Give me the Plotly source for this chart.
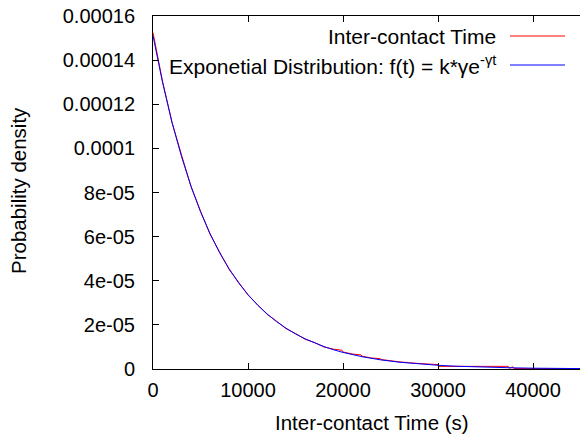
import plotly.graph_objects as go

# Data (time in s, density)
fit_t = [0, 1000, 2000, 3000, 4000, 5000, 6000, 7000, 8000, 9000, 10000,
         11000, 12000, 13000, 14000, 15000, 16000, 17000, 18000, 19000, 20000,
         22000, 24000, 26000, 28000, 30000, 32000, 34000, 36000, 38000, 40000,
         42000, 44000, 46000]
fit_y = [1.510e-4, 1.300e-4, 1.119e-4, 0.963e-4, 0.829e-4, 0.713e-4, 0.614e-4,
         0.528e-4, 0.455e-4, 0.391e-4, 0.337e-4, 0.290e-4, 0.250e-4, 0.215e-4,
         0.185e-4, 0.159e-4, 0.137e-4, 0.118e-4, 0.1015e-4, 0.0873e-4, 0.0752e-4,
         0.0557e-4, 0.0412e-4, 0.0305e-4, 0.0226e-4, 0.0168e-4, 0.0124e-4,
         0.0092e-4, 0.0068e-4, 0.0051e-4, 0.0037e-4, 0.0028e-4, 0.0021e-4,
         0.0015e-4]

emp_t = [0, 1000, 2000, 3000, 4000, 5000, 6000, 7000, 8000, 9000, 10000,
         11000, 12000, 13000, 14000, 15000, 16000, 17000, 18000,
         19000, 19900, 20000, 21000, 21900, 22000, 23000, 23900, 24000,
         25000, 25900, 26000, 26900, 27000, 28000, 28900, 29000, 30000,
         30100, 33000, 37400, 37500, 37900, 38000, 42000, 46000]
emp_y = [1.525e-4, 1.305e-4, 1.116e-4, 0.968e-4, 0.826e-4, 0.716e-4, 0.611e-4,
         0.531e-4, 0.452e-4, 0.394e-4, 0.335e-4, 0.292e-4, 0.248e-4, 0.217e-4,
         0.183e-4, 0.161e-4, 0.135e-4, 0.120e-4, 0.100e-4,
         0.090e-4, 0.085e-4, 0.077e-4, 0.068e-4, 0.064e-4, 0.058e-4, 0.050e-4,
         0.047e-4, 0.043e-4, 0.037e-4, 0.035e-4, 0.032e-4, 0.029e-4, 0.028e-4,
         0.025e-4, 0.023e-4, 0.021e-4, 0.020e-4,
         0.012e-4, 0.011e-4, 0.012e-4, 0.003e-4, 0.010e-4, 0.002e-4, 0.001e-4,
         0.001e-4]

x_ticks = [0, 10000, 20000, 30000, 40000]
x_labels = ["0", "10000", "20000", "30000", "40000"]
y_ticks = [0, 2e-5, 4e-5, 6e-5, 8e-5, 1e-4, 1.2e-4, 1.4e-4, 1.6e-4]
y_labels = ["0", "2e-05", "4e-05", "6e-05", "8e-05", "0.0001", "0.00012",
            "0.00014", "0.00016"]

x_title = "Inter-contact Time (s)"
y_title = "Probability density"
legend_names = ["Inter-contact Time",
                "Exponetial Distribution: f(t) = k*γe<sup>-γt</sup>"]
legend_colors = ["#ff0000", "#0000ff"]

FONT = "Liberation Sans, Arial, sans-serif"

fig = go.Figure()
fig.add_trace(go.Scatter(x=emp_t, y=emp_y, mode="lines",
                         line=dict(color=legend_colors[0], width=1),
                         name=legend_names[0]))
fig.add_trace(go.Scatter(x=fit_t, y=fit_y, mode="lines",
                         line=dict(color=legend_colors[1], width=1),
                         name=legend_names[1]))

# page body has an 8px margin: the figure is placed at (8, 8) in the window
OFF = 8
W, H = 588 - OFF, 436 - OFF
L, R, T, B = 153 - OFF, 0, 16 - OFF, 436 - 369
XMAX = 45790
pw = W - L - R
ph = H - T - B


def px(xw):
    return (xw - OFF - L) / pw


def py(yw):
    return 1 - (yw - OFF - T) / ph


fig.update_layout(
    width=W, height=H,
    margin=dict(l=L, r=R, t=T, b=B, autoexpand=False),
    paper_bgcolor="white", plot_bgcolor="white",
    showlegend=False,
    font=dict(family=FONT, size=20, color="black"),
    xaxis=dict(range=[0, XMAX], tickvals=x_ticks, ticktext=x_labels,
               ticks="inside", ticklen=6, tickcolor="black", automargin=False,
               showline=True, linecolor="black", linewidth=1, mirror="ticks",
               showgrid=False, zeroline=False, ticklabelstandoff=3,
               ticklabeloverflow="allow"),
    yaxis=dict(range=[0, 1.6e-4], tickvals=y_ticks, ticktext=y_labels,
               ticks="inside", ticklen=6, tickcolor="black", automargin=False,
               showline=True, linecolor="black", linewidth=1, mirror=False,
               showgrid=False, zeroline=False, ticklabelstandoff=13,
               ticklabeloverflow="allow"),
)

# axis titles
fig.add_annotation(xref="paper", yref="paper", x=px(372), y=py(422),
                   text=x_title, showarrow=False, xanchor="center",
                   yanchor="middle", font=dict(size=20.5))
fig.add_annotation(xref="paper", yref="paper", x=px(18), y=py(191),
                   text=y_title, showarrow=False, xanchor="center",
                   yanchor="middle", textangle=-90, font=dict(size=20.5))

# right-side mirrored ticks (border itself lies just beyond the canvas)
for v in y_ticks[1:-1]:
    fig.add_shape(type="line", xref="paper", yref="y", x0=px(583),
                  x1=1, y0=v, y1=v, line=dict(color="black", width=1))

# gnuplot-style legend: text right aligned, sample line on its right
ys = [36, 65]
for name, col, yp in zip(legend_names, legend_colors, ys):
    fig.add_annotation(xref="paper", yref="paper", x=px(498), y=py(yp),
                       text=name, showarrow=False, xanchor="right",
                       yanchor="middle", font=dict(size=21))
    fig.add_shape(type="line", xref="paper", yref="paper",
                  x0=px(510), x1=px(565), y0=py(yp), y1=py(yp),
                  line=dict(color=col, width=1))

fig.write_html("out.html")
